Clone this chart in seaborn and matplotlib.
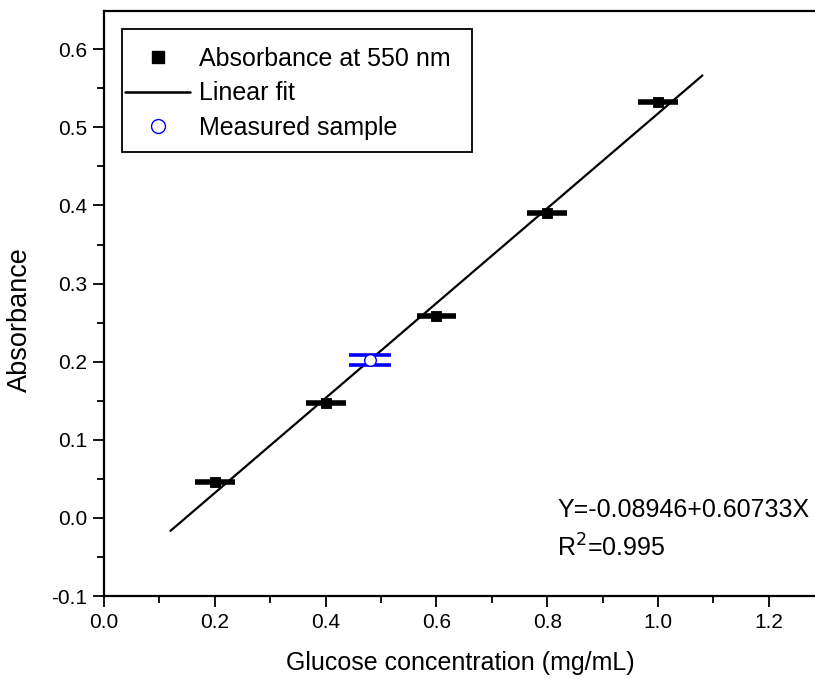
import numpy as np
import pandas as pd
import matplotlib
matplotlib.use("Agg")
import matplotlib.pyplot as plt
from matplotlib.lines import Line2D
from matplotlib.patches import Rectangle
from matplotlib.ticker import MultipleLocator
import seaborn as sns

# Calibration standards
conc = [0.2, 0.4, 0.6, 0.8, 1.0]
absorb = [0.046, 0.147, 0.258, 0.390, 0.532]
conc_err = [0.036, 0.036, 0.036, 0.036, 0.036]
absorb_err = [0.004, 0.004, 0.004, 0.004, 0.004]

# Unknown sample
sample_conc = [0.48]
sample_abs = [0.202]
sample_abs_err = [0.0066]

# Linear fit parameters and drawn range
intercept = -0.08946
slope = 0.60733
r_squared = 0.995
fit_range = [0.12, 1.08]

sns.set_theme(style="ticks")
plt.rcParams["font.family"] = ["Liberation Sans", "DejaVu Sans"]
plt.rcParams["text.color"] = "black"
plt.rcParams["axes.labelcolor"] = "black"
plt.rcParams["xtick.color"] = "black"
plt.rcParams["ytick.color"] = "black"

W, H = 815, 682
fig = plt.figure(figsize=(W / 100, H / 100), dpi=100)
ax_left, ax_bottom, ax_w, ax_h = 104, 596, 712, 585
ax = fig.add_axes([ax_left / W, 1 - ax_bottom / H, ax_w / W, ax_h / H])


def px_to_axes(x, y):
    return (x - ax_left) / ax_w, (ax_bottom - y) / ax_h


std_df = pd.DataFrame({"conc": conc, "absorb": absorb})
fit_df = pd.DataFrame({"conc": fit_range,
                       "absorb": [intercept + slope * x for x in fit_range]})
sample_df = pd.DataFrame({"conc": sample_conc, "absorb": sample_abs})

# Fit line
sns.lineplot(data=fit_df, x="conc", y="absorb", color="black", lw=1.6, ax=ax,
             zorder=2)

# Error bars of the standards
ax.errorbar(conc, absorb, xerr=conc_err, fmt="none", ecolor="black",
            elinewidth=4.0, capsize=0, zorder=3)
ax.errorbar(conc, absorb, yerr=absorb_err, fmt="none", ecolor="black",
            elinewidth=1.5, capsize=3, capthick=1.5, zorder=3)
sns.scatterplot(data=std_df, x="conc", y="absorb", marker="s", s=60,
                color="black", edgecolor="black", ax=ax, zorder=4)

# Measured sample
ax.errorbar(sample_conc, sample_abs, yerr=sample_abs_err, fmt="none",
            ecolor="blue", elinewidth=1.2, capsize=14.8, capthick=2.6,
            zorder=3)
sns.scatterplot(data=sample_df, x="conc", y="absorb", marker="o", s=70,
                facecolor="white", edgecolor="blue", linewidth=1.0, ax=ax,
                zorder=5)

ax.set_xlim(0, 1.285)
ax.set_ylim(-0.1, 0.649)
ax.xaxis.set_minor_locator(MultipleLocator(0.1))
ax.yaxis.set_minor_locator(MultipleLocator(0.05))
ax.set_xticks(np.arange(0, 1.21, 0.2))
ax.set_xticklabels(["0.0", "0.2", "0.4", "0.6", "0.8", "1.0", "1.2"])
ax.set_yticks(np.arange(-0.1, 0.61, 0.1))
ax.set_yticklabels(["-0.1", "0.0", "0.1", "0.2", "0.3", "0.4", "0.5", "0.6"])

ax.tick_params(axis="both", which="major", direction="out", length=8,
               width=1.3, labelsize=15, pad=4)
ax.tick_params(axis="both", which="minor", direction="out", length=5,
               width=1.3)
for side in ["left", "bottom", "top"]:
    ax.spines[side].set_linewidth(1.6)
    ax.spines[side].set_color("black")
ax.spines["right"].set_visible(False)

ax.set_xlabel("Glucose concentration (mg/mL)", fontsize=18, labelpad=14)
ax.set_ylabel("Absorbance", fontsize=19.5)
ax.yaxis.set_label_coords(*px_to_axes(33, 320))

ax.text(0.818, 0.010, f"Y={intercept:.5f}+{slope:.5f}X", fontsize=18,
        va="center", ha="left")
ax.text(0.818, -0.038, f"R$^2$={r_squared:.3f}", fontsize=18,
        va="center", ha="left")

# Legend frame and entries
fx0, fy0 = px_to_axes(122, 152)
fx1, fy1 = px_to_axes(472, 29)
ax.add_patch(Rectangle((fx0, fy0), fx1 - fx0, fy1 - fy0,
                       transform=ax.transAxes, fill=True, facecolor="white",
                       edgecolor="black", linewidth=1.3, zorder=6))

handles = [
    Line2D([], [], marker="s", color="black", linestyle="none", markersize=9),
    Line2D([], [], color="black", lw=1.8),
    Line2D([], [], marker="o", markerfacecolor="white",
           markeredgecolor="blue", linestyle="none", markersize=10),
]
labels = ["Absorbance at 550 nm", "Linear fit", "Measured sample"]
leg = ax.legend(handles, labels, loc="upper left",
                bbox_to_anchor=px_to_axes(125, 47), borderaxespad=0,
                fontsize=18, frameon=False, handlelength=2.6,
                handletextpad=0.35, labelspacing=0.42, borderpad=0)
leg.set_zorder(7)

fig.savefig("out.png", dpi=100)
